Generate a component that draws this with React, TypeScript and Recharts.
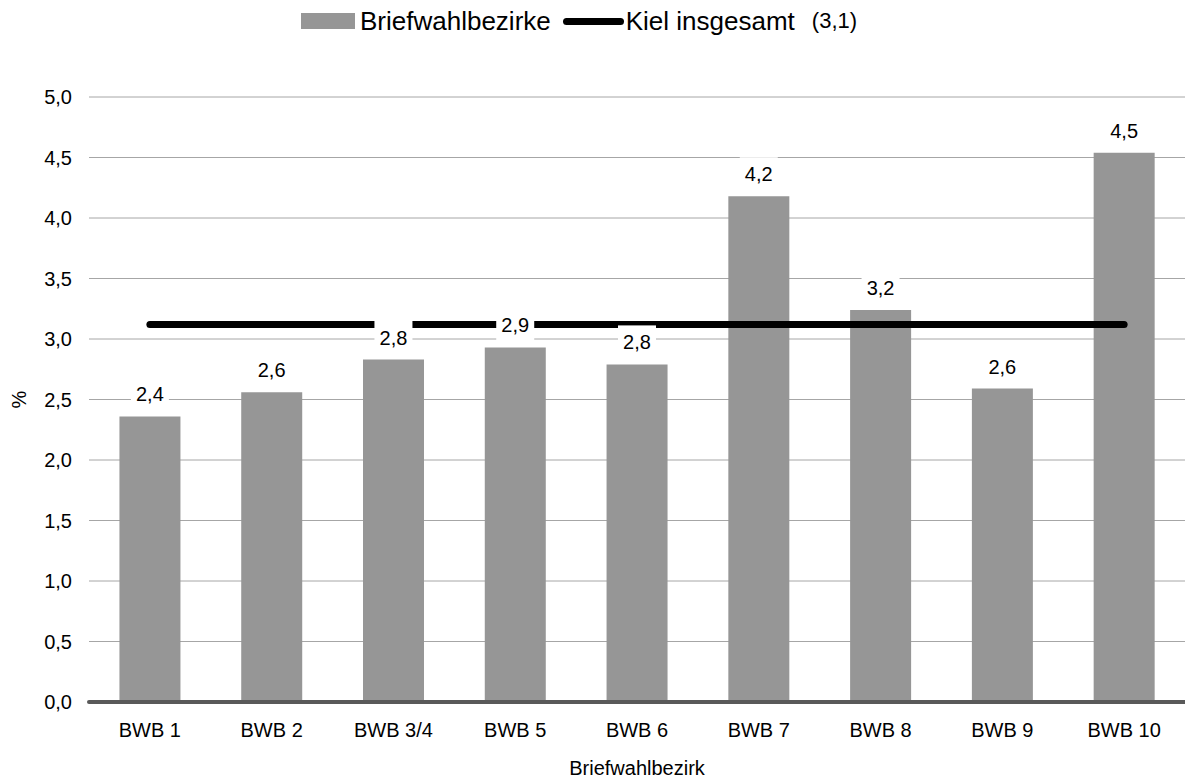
import React from "react";
import {
  ComposedChart,
  Bar,
  Line,
  XAxis,
  YAxis,
  CartesianGrid,
  Legend,
  LabelList,
  Label,
} from "recharts";

const districts = ["BWB 1", "BWB 2", "BWB 3/4", "BWB 5", "BWB 6", "BWB 7", "BWB 8", "BWB 9", "BWB 10"];
const shares = [2.36, 2.56, 2.83, 2.93, 2.79, 4.18, 3.24, 2.59, 4.54];
const kielTotal = 3.12;
const yTicks = [0, 0.5, 1, 1.5, 2, 2.5, 3, 3.5, 4, 4.5, 5];

const data = districts.map((name, i) => ({
  name,
  value: shares[i],
  kiel: kielTotal,
}));

const FONT = "'Liberation Sans', Arial, sans-serif";
const fmt = (v: number) => v.toFixed(1).replace(".", ",");

// value label with a white box, drawn above the Kiel line
const ValueLabel = (props: any) => {
  const { x, y, value } = props;
  if (x == null || y == null) return null;
  const cy = y - 22;
  return (
    <g>
      <rect x={x - 19} y={cy - 17} width={38} height={34} fill="#fff" />
      <text
        x={x}
        y={cy}
        textAnchor="middle"
        dominantBaseline="central"
        fontSize={20}
        fontFamily={FONT}
        fill="#000"
      >
        {fmt(value)}
      </text>
    </g>
  );
};

const ChartLegend = () => (
  <div
    style={{
      display: "flex",
      alignItems: "center",
      fontFamily: FONT,
      fontSize: 26,
      color: "#000",
      height: 30,
      whiteSpace: "nowrap",
    }}
  >
    <span style={{ display: "inline-block", width: 54, height: 16, background: "#969696", marginRight: 5 }} />
    <span>Briefwahlbezirke</span>
    <span
      style={{
        display: "inline-block",
        width: 61,
        height: 7,
        borderRadius: 4,
        background: "#000",
        marginLeft: 12,
        marginRight: 2,
      }}
    />
    <span>Kiel insgesamt</span>
    <span style={{ fontSize: 22, marginLeft: 17 }}>(3,1)</span>
  </div>
);

export default function App() {
  return (
    <div style={{ position: "fixed", left: 0, top: 0, background: "#fff" }}>
      <ComposedChart
        width={1185}
        height={780}
        data={data}
        margin={{ top: 67, right: 0, bottom: 0, left: 0 }}
        barCategoryGap="25%"
      >
        <CartesianGrid vertical={false} stroke="#a6a6a6" strokeWidth={1} />
        <XAxis
          dataKey="name"
          height={78}
          tickLine={false}
          axisLine={{ stroke: "#595959", strokeWidth: 4, strokeLinecap: "round" }}
          tickMargin={15}
          tick={{ fill: "#000", fontSize: 20, fontFamily: FONT }}
          interval={0}
        >
          <Label
            value="Briefwahlbezirk"
            position="insideBottom"
            offset={5}
            style={{ fill: "#000", fontSize: 20, fontFamily: FONT }}
          />
        </XAxis>
        <YAxis
          width={89}
          domain={[0, 5]}
          ticks={yTicks}
          tickFormatter={fmt}
          tickLine={false}
          axisLine={false}
          tickMargin={11}
          tick={{ fill: "#000", fontSize: 20, fontFamily: FONT }}
          label={{
            content: (p: any) => {
              const vb = p.viewBox || {};
              const cy = (vb.y ?? 97) + (vb.height ?? 605) / 2;
              return (
                <text
                  x={19}
                  y={cy}
                  transform={`rotate(-90 19 ${cy})`}
                  textAnchor="middle"
                  dominantBaseline="central"
                  fontSize={20}
                  fontFamily={FONT}
                  fill="#000"
                >
                  %
                </text>
              );
            },
          }}
        />
        <Legend
          verticalAlign="top"
          content={<ChartLegend />}
          wrapperStyle={{ top: 6, left: 301, width: "auto", height: 30 }}
        />
        <Bar dataKey="value" name="Briefwahlbezirke" fill="#969696" isAnimationActive={false} />
        <Line
          dataKey="kiel"
          name="Kiel insgesamt"
          stroke="#000"
          strokeWidth={7}
          strokeLinecap="round"
          dot={false}
          activeDot={false}
          isAnimationActive={false}
        />
        <Line
          dataKey="value"
          stroke="none"
          dot={false}
          activeDot={false}
          legendType="none"
          isAnimationActive={false}
        >
          <LabelList dataKey="value" content={<ValueLabel />} />
        </Line>
      </ComposedChart>
    </div>
  );
}
